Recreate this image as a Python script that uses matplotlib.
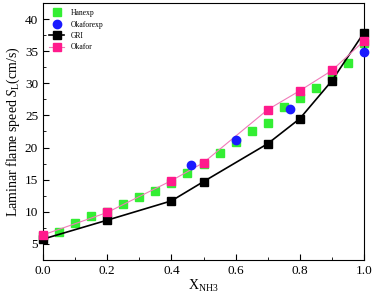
import matplotlib.pyplot as plt
from matplotlib.ticker import MultipleLocator

plt.rcParams['font.family'] = ['Liberation Serif', 'DejaVu Serif']
plt.rcParams['mathtext.fontset'] = 'custom'
plt.rcParams['mathtext.rm'] = 'Liberation Serif'
plt.rcParams['mathtext.it'] = 'Liberation Serif:italic'

# Han experiments
han_x = [0.0, 0.05, 0.1, 0.15, 0.2, 0.25, 0.3, 0.35, 0.4, 0.45, 0.5, 0.55,
         0.6, 0.65, 0.7, 0.75, 0.8, 0.85, 0.9, 0.95, 1.0]
han_y = [6.2, 6.9, 8.2, 9.4, 10.0, 11.2, 12.3, 13.2, 14.45, 16.0, 17.4, 19.1,
         20.9, 22.5, 23.9, 26.3, 27.7, 29.3, 31.1, 33.2, 36.3]

# Okafor experiments
okexp_x = [0.46, 0.6, 0.77, 1.0]
okexp_y = [17.35, 21.1, 25.95, 34.8]

# GRI mechanism
gri_x = [0.0, 0.2, 0.4, 0.5, 0.7, 0.8, 0.9, 1.0]
gri_y = [5.75, 8.7, 11.7, 14.7, 20.6, 24.5, 30.4, 37.9]

# Okafor mechanism
okafor_x = [0.0, 0.2, 0.4, 0.5, 0.7, 0.8, 0.9, 1.0]
okafor_y = [6.4, 9.9, 14.85, 17.65, 25.9, 28.85, 32.0, 36.6]

fig = plt.figure(figsize=(3.74, 2.99), dpi=100)
ax = fig.add_axes([43 / 374, 39 / 299, 321 / 374, 257 / 299])

han, = ax.plot(han_x, han_y, 's', color='#33ee33', ms=5.5, label='Hanexp',
               zorder=2, clip_on=False)
gri, = ax.plot(gri_x, gri_y, '-s', color='black', lw=1.2, ms=5.5, label='GRI',
               zorder=3, clip_on=False)
oka, = ax.plot(okafor_x, okafor_y, '-s', color='#f07ab8', mfc='#ff1a8c', mec='#ff1a8c',
               lw=0.8, ms=5.5, label='Okafor', zorder=4, clip_on=False)
okx, = ax.plot(okexp_x, okexp_y, 'o', color='#1a1aff', ms=6, label='Okaforexp',
               zorder=5, clip_on=False)

ax.set_xlim(0, 1.0)
ax.set_ylim(2.5, 42.5)
ax.xaxis.set_major_locator(MultipleLocator(0.2))
ax.xaxis.set_minor_locator(MultipleLocator(0.1))
ax.yaxis.set_major_locator(MultipleLocator(5))
ax.yaxis.set_minor_locator(MultipleLocator(2.5))
ax.tick_params(which='both', direction='in', labelsize=9.5)
ax.tick_params(which='major', length=4)
ax.tick_params(which='minor', length=2)

ax.set_xlabel(r'X$_{\mathrm{NH3}}$', fontsize=10, labelpad=1)
ax.set_ylabel(r'Laminar flame speed $S_{\mathrm{L}}$(cm/s)', fontsize=10, labelpad=2)

ax.legend([han, okx, gri, oka], ['Hanexp', 'Okaforexp', 'GRI', 'Okafor'],
          loc='upper left', fontsize=5.5, frameon=False, handlelength=2.0,
          labelspacing=0.45, borderaxespad=0.4)

fig.savefig('out.png', dpi=100)
